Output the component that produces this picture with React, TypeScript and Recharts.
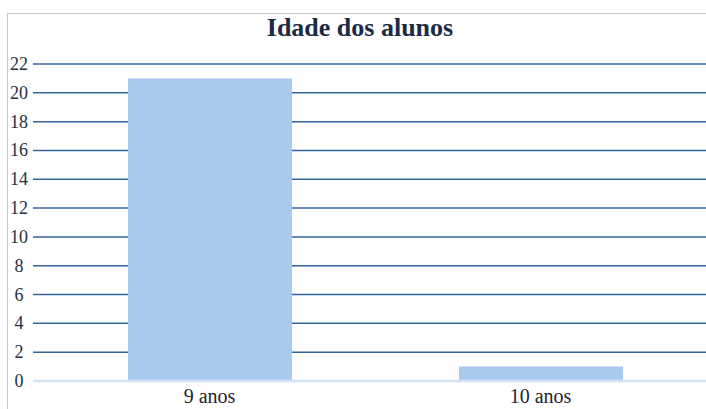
import { Bar, BarChart, CartesianGrid, ReferenceLine, XAxis, YAxis } from "recharts";

const categories = ["9 anos", "10 anos"];
const counts = [21, 1];
const yTicks = [0, 2, 4, 6, 8, 10, 12, 14, 16, 18, 20, 22];

const data = categories.map((age, i) => ({ age, count: counts[i] }));

const serif = "'Liberation Serif', 'Times New Roman', 'DejaVu Serif', serif";

function YTick({ y, payload }: any) {
  return (
    <text x={19} y={y} dy={6} textAnchor="middle" style={{ fontFamily: serif, fontSize: 18 }} fill="#26303f">
      {payload.value}
    </text>
  );
}

function XTick({ x, payload }: any) {
  return (
    <text x={x} y={403} textAnchor="middle" style={{ fontFamily: serif, fontSize: 20 }} fill="#1e2430">
      {payload.value}
    </text>
  );
}

export default function App() {
  return (
    <div style={{ position: "fixed", left: 0, top: 0, width: 706, height: 409, background: "#fff", overflow: "hidden" }}>
      <div
        style={{
          position: "absolute",
          left: 7,
          top: 13,
          width: 720,
          height: 420,
          border: "1px solid #c8c8c8",
        }}
      />
      <div
        style={{
          position: "absolute",
          left: 0,
          top: 13,
          width: 720,
          textAlign: "center",
          fontFamily: serif,
          fontWeight: "bold",
          fontSize: 26,
          color: "#1c2b45",
        }}
      >
        Idade dos alunos
      </div>
      <div style={{ position: "absolute", left: 0, top: 0 }}>
        <BarChart width={706} height={409} data={data} margin={{ top: 64, right: 0, bottom: 0, left: 0 }}>
          <CartesianGrid vertical={false} stroke="#35659f" strokeWidth={1.5} />
          <ReferenceLine y={0} stroke="#d3e3f3" strokeWidth={2.5} />
          <XAxis
            dataKey="age"
            axisLine={false}
            tickLine={false}
            height={28}
            padding={{ left: 11, right: 0 }}
            tick={<XTick />}
          />
          <YAxis
            domain={[0, 22]}
            ticks={yTicks}
            interval={0}
            axisLine={false}
            tickLine={false}
            width={33}
            tick={<YTick />}
          />
          <Bar dataKey="count" fill="#a8caee" barSize={164} isAnimationActive={false} />
        </BarChart>
      </div>
    </div>
  );
}
